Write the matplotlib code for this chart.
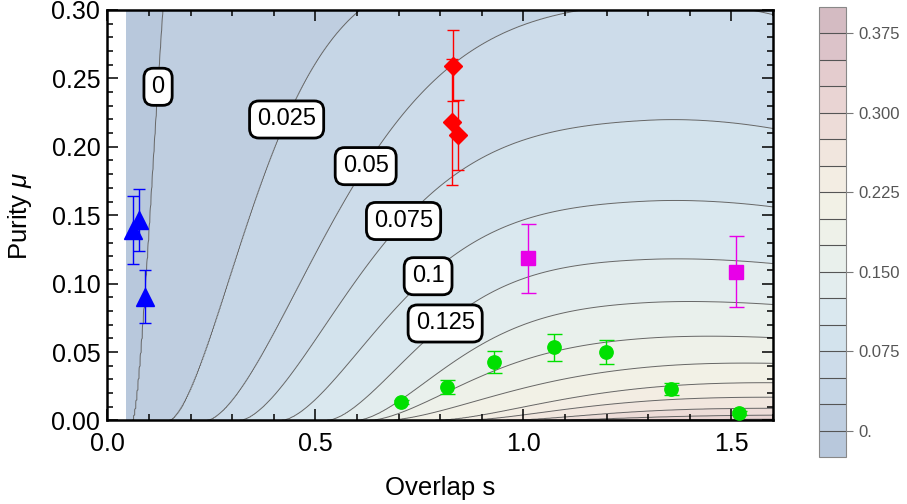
import numpy as np
import matplotlib
matplotlib.use('Agg')
import matplotlib.pyplot as plt

# 字体设置（Arial 风格）
plt.rcParams['font.family'] = ['Liberation Sans', 'DejaVu Sans']
plt.rcParams['mathtext.fontset'] = 'custom'
plt.rcParams['mathtext.it'] = 'Liberation Sans:italic'
plt.rcParams['mathtext.rm'] = 'Liberation Sans'

# --- 等高线数据---
levels = np.round(np.arange(-0.025, 0.4001, 0.025), 3)
# 每条等高线的平台高度 / 起点 s / 上升宽度
line_top = [0.9, 0.575, 0.33, 0.308, 0.2215, 0.162, 0.119, 0.088, 0.063,
            0.0441, 0.0295, 0.0182, 0.0095, 0.0043, 0.001, 0.0, 0.0, 0.0]
line_start = [-0.3, 0.062, 0.15, 0.24, 0.32, 0.42, 0.53, 0.60, 0.63,
              0.67, 0.79, 0.855, 0.96, 1.05, 1.15, 1.2, 1.25, 1.3]
line_width = [0.08, 0.087, 0.265, 0.40, 0.375, 0.34, 0.30, 0.30, 0.33,
              0.39, 0.37, 0.342, 0.291, 0.30, 0.30, 0.30, 0.30, 0.30]

band_colors = ['#b8c8dc', '#bfcee0', '#c6d6e6', '#cddcea', '#d3e3ed', '#dae8ef',
               '#e3edee', '#e9f0ec', '#eef1e9', '#f2f1e6', '#f3ede3', '#f1e6de',
               '#eddcd8', '#e9d4d3', '#e4ccce', '#dcc3c9', '#d4bbc2']

label_text = ['0', '0.025', '0.05', '0.075', '0.1', '0.125']
label_s = [0.122, 0.431, 0.621, 0.712, 0.771, 0.812]

# --- 数据点（带误差棒）---
blue_s = [0.061, 0.077, 0.0906]
blue_mu = [0.1394, 0.1464, 0.0905]
blue_err = [0.0248, 0.0227, 0.0193]

red_s = [0.832, 0.829, 0.842]
red_mu = [0.2593, 0.2183, 0.2085]
red_err = [0.026, 0.046, 0.0255]

magenta_s = [1.0106, 1.5106]
magenta_mu = [0.1185, 0.1086]
magenta_err = [0.025, 0.026]

green_s = [0.706, 0.8176, 0.930, 1.0745, 1.198, 1.354, 1.517]
green_mu = [0.0134, 0.0243, 0.0428, 0.0535, 0.0503, 0.0232, 0.0057]
green_err = [0.0015, 0.005, 0.0079, 0.0099, 0.0088, 0.0045, 0.0015]


def line_mu(k, s):
    # 第 k 条等高线在 s 处的 mu 值
    x = np.clip((s - line_start[k]) / line_width[k], 0, None)
    drop = 1 - 0.4 * np.clip(s - 1.3, 0, None) ** 2
    return line_top[k] * (1 - np.exp(-x ** 1.6)) * drop


# 构造网格上的场
s_grid = np.linspace(0.045, 1.6, 600)
mu_grid = np.linspace(0, 0.3, 900)
F = np.zeros((len(mu_grid), len(s_grid)))
for j, s in enumerate(s_grid):
    mus = np.array([line_mu(k, s) for k in range(len(levels))])
    mus = np.minimum.accumulate(mus)
    F[:, j] = np.interp(mu_grid, mus[::-1], levels[::-1])
S, MU = np.meshgrid(s_grid, mu_grid)

fig = plt.figure(figsize=(9.07, 5.04), dpi=100)
ax = fig.add_axes([0.1183, 0.1657, 0.734, 0.8145])

cf = ax.contourf(S, MU, F, levels=levels, colors=band_colors, zorder=0)
ax.contour(S, MU, F, levels=levels[1:-1], colors='#666666', linewidths=0.7, zorder=1)

# 等高线标签
for txt, s in zip(label_text, label_s):
    k = list(levels).index(float(txt))
    ax.text(s, line_mu(k, s), txt, fontsize=17, ha='center', va='center', zorder=3,
            bbox=dict(boxstyle='round,pad=0.32,rounding_size=0.4', fc='white', ec='black', lw=2.0))

# 误差棒数据
ax.errorbar(blue_s, blue_mu, yerr=blue_err, fmt='^', color='#0000ff', ms=13,
            capsize=4.2, elinewidth=1, capthick=1, zorder=4)
ax.errorbar(red_s, red_mu, yerr=red_err, fmt='D', color='#ff0000', ms=9,
            capsize=4.4, elinewidth=1, capthick=1, zorder=4)
ax.errorbar(magenta_s, magenta_mu, yerr=magenta_err, fmt='s', color='#e800e8', ms=10,
            capsize=5.4, elinewidth=1, capthick=1, zorder=4)
ax.errorbar(green_s, green_mu, yerr=green_err, fmt='o', color='#00e000', ms=9.6,
            capsize=5.4, elinewidth=1, capthick=1, zorder=4)

ax.set_xlim(0, 1.6)
ax.set_ylim(0, 0.3)
ax.set_xticks([0, 0.5, 1.0, 1.5])
ax.set_xticklabels(['0.0', '0.5', '1.0', '1.5'])
ax.set_xticks(np.arange(0, 1.61, 0.1), minor=True)
ax.set_yticks(np.arange(0, 0.301, 0.05))
ax.set_yticklabels(['0.00', '0.05', '0.10', '0.15', '0.20', '0.25', '0.30'])
ax.set_yticks(np.arange(0, 0.301, 0.01), minor=True)
ax.tick_params(which='both', direction='in', top=True, right=True, width=1.1, labelsize=18)
ax.tick_params(which='major', length=8)
ax.tick_params(which='minor', length=4)
ax.tick_params(axis='x', pad=8)
ax.tick_params(axis='y', pad=5)
for sp in ax.spines.values():
    sp.set_linewidth(1.8)

ax.set_xlabel('Overlap s', fontsize=18.5)
ax.set_ylabel('Purity $\\mu$', fontsize=18.5)
ax.xaxis.set_label_coords(0.5, -0.135)
ax.yaxis.set_label_coords(-0.11, 0.5)

# 颜色条
cax = fig.add_axes([0.903, 0.0933, 0.0298, 0.893])
cb = fig.colorbar(cf, cax=cax, ticks=[0, 0.075, 0.15, 0.225, 0.3, 0.375])
cb.ax.set_yticklabels(['0.', '0.075', '0.150', '0.225', '0.300', '0.375'])
cax.tick_params(length=5, width=0.8, color='#777777', labelcolor='#555555',
                labelsize=12, direction='out', pad=4)
cb.outline.set_edgecolor('#888888')
cb.outline.set_linewidth(0.8)
for lv in levels[1:-1]:
    cax.axhline(lv, color='#555555', lw=0.8)

fig.savefig('out.png', dpi=100)
